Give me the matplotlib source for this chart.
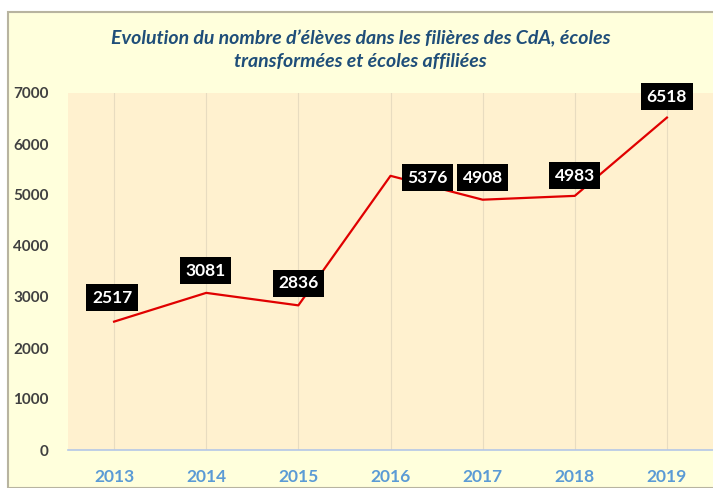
import matplotlib.pyplot as plt
from matplotlib.patches import Rectangle

years = ["2013", "2014", "2015", "2016", "2017", "2018", "2019"]
eleves = [2517, 3081, 2836, 5376, 4908, 4983, 6518]
yticks = [0, 1000, 2000, 3000, 4000, 5000, 6000, 7000]

plt.rcParams['font.family'] = ['Lato', 'DejaVu Sans']

fig = plt.figure(figsize=(7.13, 4.88), dpi=100)
fig.patch.set_facecolor('white')

# cadre du graphique (fond jaune clair)
W, H = 713.0, 488.0
fig.patches.append(Rectangle((8 / W, 0), 1, (H - 12) / H, transform=fig.transFigure,
                             facecolor='#FFFFDC', edgecolor='#B8B4A0', lw=1.5, zorder=-5))

ax = fig.add_axes([68 / W, (H - 450) / H, (713 - 68) / W, (450 - 93) / H])
ax.set_zorder(2)
ax.set_facecolor('#FFF1CF')

x = list(range(len(years)))
ax.plot(x, eleves, color='#E00000', lw=1.6, zorder=3)

# etiquettes noires
offsets = [(-2, 24), (-1, 22), (0, 22), (37, -2), (0, 22), (0, 20), (0, 21)]
for i, v in enumerate(eleves):
    dx, dy = offsets[i]
    ax.annotate(str(v), (i, v), xytext=(dx, dy), textcoords='offset pixels',
                ha='center', va='center', color='white', fontsize=12.5, fontweight='bold',
                bbox=dict(boxstyle='square,pad=0.32', facecolor='black', edgecolor='none'),
                zorder=4)

ax.set_xlim(-0.5, 6.5)
ax.set_ylim(0, 7000)
ax.set_xticks(x)
ax.set_xticklabels(years, color='#5B9BD5', fontweight='bold', fontsize=12.5)
ax.set_yticks(yticks)
ax.set_yticklabels([str(t) for t in yticks], color='#404040', fontweight='bold', fontsize=11)
ax.tick_params(axis='both', length=0)
ax.tick_params(axis='x', pad=14)
ax.tick_params(axis='y', pad=14)
ax.grid(axis='x', color='#E8DCC0', lw=0.8)
ax.set_axisbelow(True)
for s in ['top', 'right', 'left']:
    ax.spines[s].set_visible(False)
ax.spines['bottom'].set_color('#B4C7E7')
ax.spines['bottom'].set_linewidth(1.2)

fig.text(0.5 + 8 / W / 2, (H - 50) / H,
         "Evolution du nombre d\u2019\u00e9l\u00e8ves dans les fili\u00e8res des CdA, \u00e9coles\ntransform\u00e9es et \u00e9coles affili\u00e9es",
         ha='center', va='center', color='#1F4E79', fontsize=14, fontweight='bold',
         style='italic', linespacing=1.4, zorder=3)

fig.savefig('out.png', dpi=100, facecolor=fig.get_facecolor())
